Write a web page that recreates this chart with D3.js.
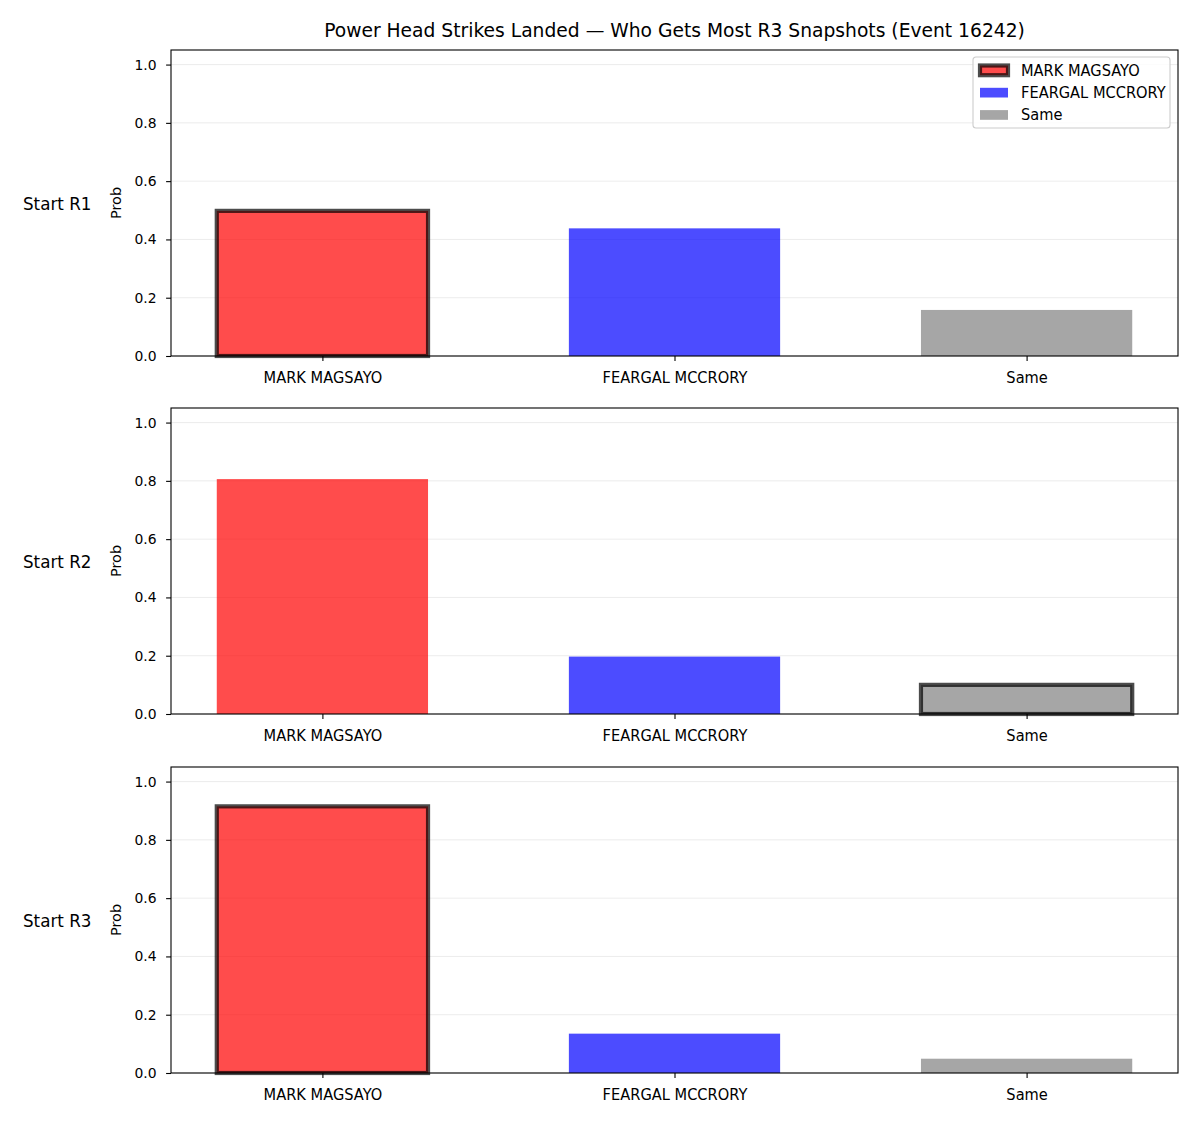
<!DOCTYPE html>
<html>
<head>
    <meta charset="utf-8">
    <script src="https://d3js.org/d3.v7.min.js"></script>
    <style>
        body { margin: 0; background: #fff; }
        text { font-family: "DejaVu Sans", sans-serif; fill: #000; }
    </style>
</head>
<body>
    <script>
        var title = "Power Head Strikes Landed \u2014 Who Gets Most R3 Snapshots (Event 16242)";
        var categories = ["MARK MAGSAYO", "FEARGAL MCCRORY", "Same"];
        var colors = ["#ff0000", "#0000ff", "#808080"];
        var rounds = ["Start R1", "Start R2", "Start R3"];
        var probR1 = [0.498, 0.438, 0.158];
        var probR2 = [0.806, 0.197, 0.100];
        var probR3 = [0.915, 0.135, 0.049];
        var probs = [probR1, probR2, probR3];
        // outlined bar per panel
        var highlight = ["MARK MAGSAYO", "Same", "MARK MAGSAYO"];
        var yTicks = [0, 0.2, 0.4, 0.6, 0.8, 1.0];

        var W = 1200, H = 1125;
        var left = 171, right = 1178;
        var tops = [50, 408, 767];
        var panelH = 306;
        var squeeze = 0.92; // text in the picture is a bit narrow

        var svg = d3.select("body").append("svg")
            .attr("width", W)
            .attr("height", H);

        svg.append("text")
            .attr("x", (left + right) / 2)
            .attr("y", 36.5)
            .attr("text-anchor", "middle")
            .style("font-size", "18.7px")
            .text(title);

        var x = d3.scaleLinear().domain([-0.43, 2.43]).range([left, right]);
        var barW = x(0.6) - x(0);

        rounds.forEach(function(r, i) {
            var top = tops[i];
            var y = d3.scaleLinear().domain([0, 1.05]).range([top + panelH, top]);
            var g = svg.append("g");

            // grid
            g.selectAll("line.grid")
                .data(yTicks)
                .enter().append("line")
                .attr("x1", left).attr("x2", right)
                .attr("y1", d => y(d)).attr("y2", d => y(d))
                .style("stroke", "#b0b0b0")
                .style("stroke-opacity", 0.3)
                .style("stroke-width", 0.8);

            // bars
            g.selectAll("rect.bar")
                .data(probs[i])
                .enter().append("rect")
                .attr("x", (d, j) => x(j) - barW / 2)
                .attr("width", barW)
                .attr("y", d => y(d))
                .attr("height", d => y(0) - y(d))
                .style("fill", (d, j) => colors[j])
                .style("fill-opacity", 0.7)
                .style("stroke", (d, j) => categories[j] === highlight[i] ? "#000" : "none")
                .style("stroke-opacity", 0.7)
                .style("stroke-width", 4.2);

            // axes
            var yAxis = d3.axisLeft(y).tickValues(yTicks)
                .tickFormat(d3.format(".1f")).tickSize(4.9).tickPadding(9.5);
            var ya = g.append("g").attr("transform", "translate(" + left + ",0)").call(yAxis);
            var xAxis = d3.axisBottom(x).tickValues([0, 1, 2])
                .tickFormat(d => categories[d]).tickSize(4.9).tickPadding(10.5);
            var xa = g.append("g").attr("transform", "translate(0," + (top + panelH) + ")").call(xAxis);
            [ya, xa].forEach(function(a) {
                a.select(".domain").remove();
                a.selectAll("line").style("stroke", "#000").style("stroke-width", 1.1);
                a.selectAll("text").style("font-family", "DejaVu Sans, sans-serif");
            });
            ya.selectAll("text").style("font-size", "13.9px");
            xa.selectAll("text").style("font-size", "15.9px")
                .attr("transform", "scale(" + squeeze + ",1)");

            g.append("rect")
                .attr("x", left).attr("y", top)
                .attr("width", right - left).attr("height", panelH)
                .style("fill", "none")
                .style("stroke", "#000")
                .style("stroke-width", 1.1);

            g.append("text")
                .attr("transform", "translate(121," + (top + panelH / 2) + ") rotate(-90)")
                .attr("text-anchor", "middle")
                .style("font-size", "14.5px")
                .text("Prob");

            g.append("text")
                .attr("transform", "translate(23," + (top + panelH / 2 + 6.5) + ") scale(" + squeeze + ",1)")
                .style("font-size", "18.2px")
                .text(r);
        });

        // legend
        var lg = svg.append("g").attr("transform", "translate(973,57)");
        lg.append("rect")
            .attr("width", 197).attr("height", 71)
            .attr("rx", 3)
            .style("fill", "#fff").style("fill-opacity", 0.8)
            .style("stroke", "#cccccc").style("stroke-width", 1.1);
        categories.forEach(function(c, j) {
            var row = lg.append("g").attr("transform", "translate(0," + (13 + j * 22.3) + ")");
            row.append("rect")
                .attr("x", 7).attr("y", -4.5)
                .attr("width", 28).attr("height", 9.7)
                .style("fill", colors[j]).style("fill-opacity", 0.7)
                .style("stroke", j === 0 ? "#000" : "none")
                .style("stroke-opacity", 0.7)
                .style("stroke-width", 4.2);
            row.append("text")
                .attr("transform", "translate(48,5.8) scale(" + squeeze + ",1)")
                .style("font-size", "15.9px")
                .text(c);
        });
    </script>
</body>
</html>
